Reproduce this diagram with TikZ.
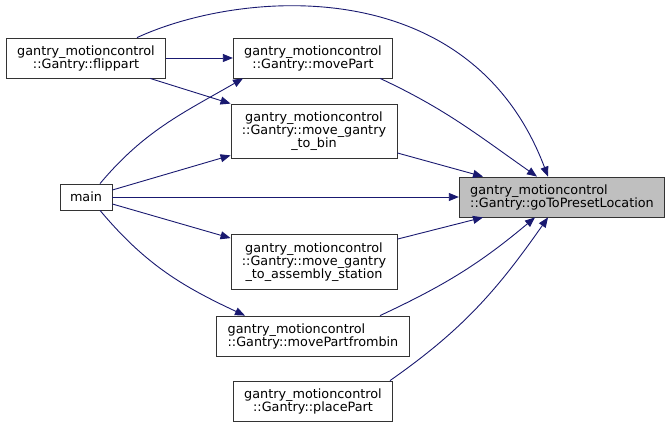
\documentclass[tikz,border=0pt]{standalone}
\usepackage{fontspec}
\setmainfont{DejaVu Sans}
\usetikzlibrary{arrows.meta}
\definecolor{callblue}{RGB}{25,25,112}
\definecolor{hilite}{RGB}{191,191,191}
\tikzset{
  func/.style={draw=black!80, line width=0.8pt, fill=white, inner xsep=11pt,
    minimum height=40pt, align=center, font=\fontsize{12.8}{13}\selectfont},
  calls/.style={draw=callblue, line width=0.9pt,
    -{Triangle[length=10pt,width=8pt]}},
}
\begin{document}
\begin{tikzpicture}[x=1pt,y=1pt]
    \useasboundingbox (0,0) rectangle (671,-427);

    % callers
    \node[func] (flip) at (86,-58) {gantry\_motioncontrol\\::Gantry::flippart};
    \node[func, minimum height=26pt, inner xsep=10pt] (main) at (86,-197) {main};

    % middle column
    \node[func] (mpart) at (313,-58) {gantry\_motioncontrol\\::Gantry::movePart};
    \node[func, minimum height=54pt] (tobin) at (314,-131) {gantry\_motioncontrol\\::Gantry::move\_gantry\\\_to\_bin};
    \node[func, minimum height=55pt] (toasm) at (314,-262) {gantry\_motioncontrol\\::Gantry::move\_gantry\\\_to\_assembly\_station};
    \node[func, align=left] (frombin) at (313,-336) {gantry\_motioncontrol\\::Gantry::movePartfrombin};
    \node[func] (place) at (313,-401) {gantry\_motioncontrol\\::Gantry::placePart};

    % the called function
    \node[func, fill=hilite, align=left] (preset) at (562,-197) {gantry\_motioncontrol\\::Gantry::goToPresetLocation};

    % edges
    \draw[calls] ([xshift=51pt]flip.north) .. controls (240,10) and (470,30) .. ([xshift=-14pt]preset.north);
    \draw[calls] (flip.east) -- (mpart.west);
    \draw[calls] ([xshift=64pt]flip.south) -- (tobin.north west);
    \draw[calls] ([xshift=14pt]main.north) to[out=50,in=210] ([xshift=-70pt]mpart.south);
    \draw[calls] ([yshift=7pt]main.east) -- ([yshift=3pt]tobin.south west);
    \draw[calls] (main.east) -- (preset.west);
    \draw[calls] ([yshift=-7pt]main.east) -- ([yshift=-4pt]toasm.north west);
    \draw[calls] ([xshift=14pt]main.south) to[out=-50,in=155] ([xshift=-68pt]frombin.north);
    \draw[calls] ([xshift=67pt]mpart.south) to[out=-25,in=145] ([xshift=-25pt]preset.north);
    \draw[calls] ([yshift=-22pt]tobin.east) -- ([xshift=-79pt]preset.north);
    \draw[calls] ([yshift=-5pt]toasm.north east) -- ([xshift=-79pt]preset.south);
    \draw[calls] ([xshift=67pt]frombin.north) to[out=25,in=220] ([xshift=-27pt]preset.south);
    \draw[calls] ([xshift=77pt]place.north) to[out=35,in=235] ([xshift=-14pt]preset.south);
\end{tikzpicture}
\end{document}
